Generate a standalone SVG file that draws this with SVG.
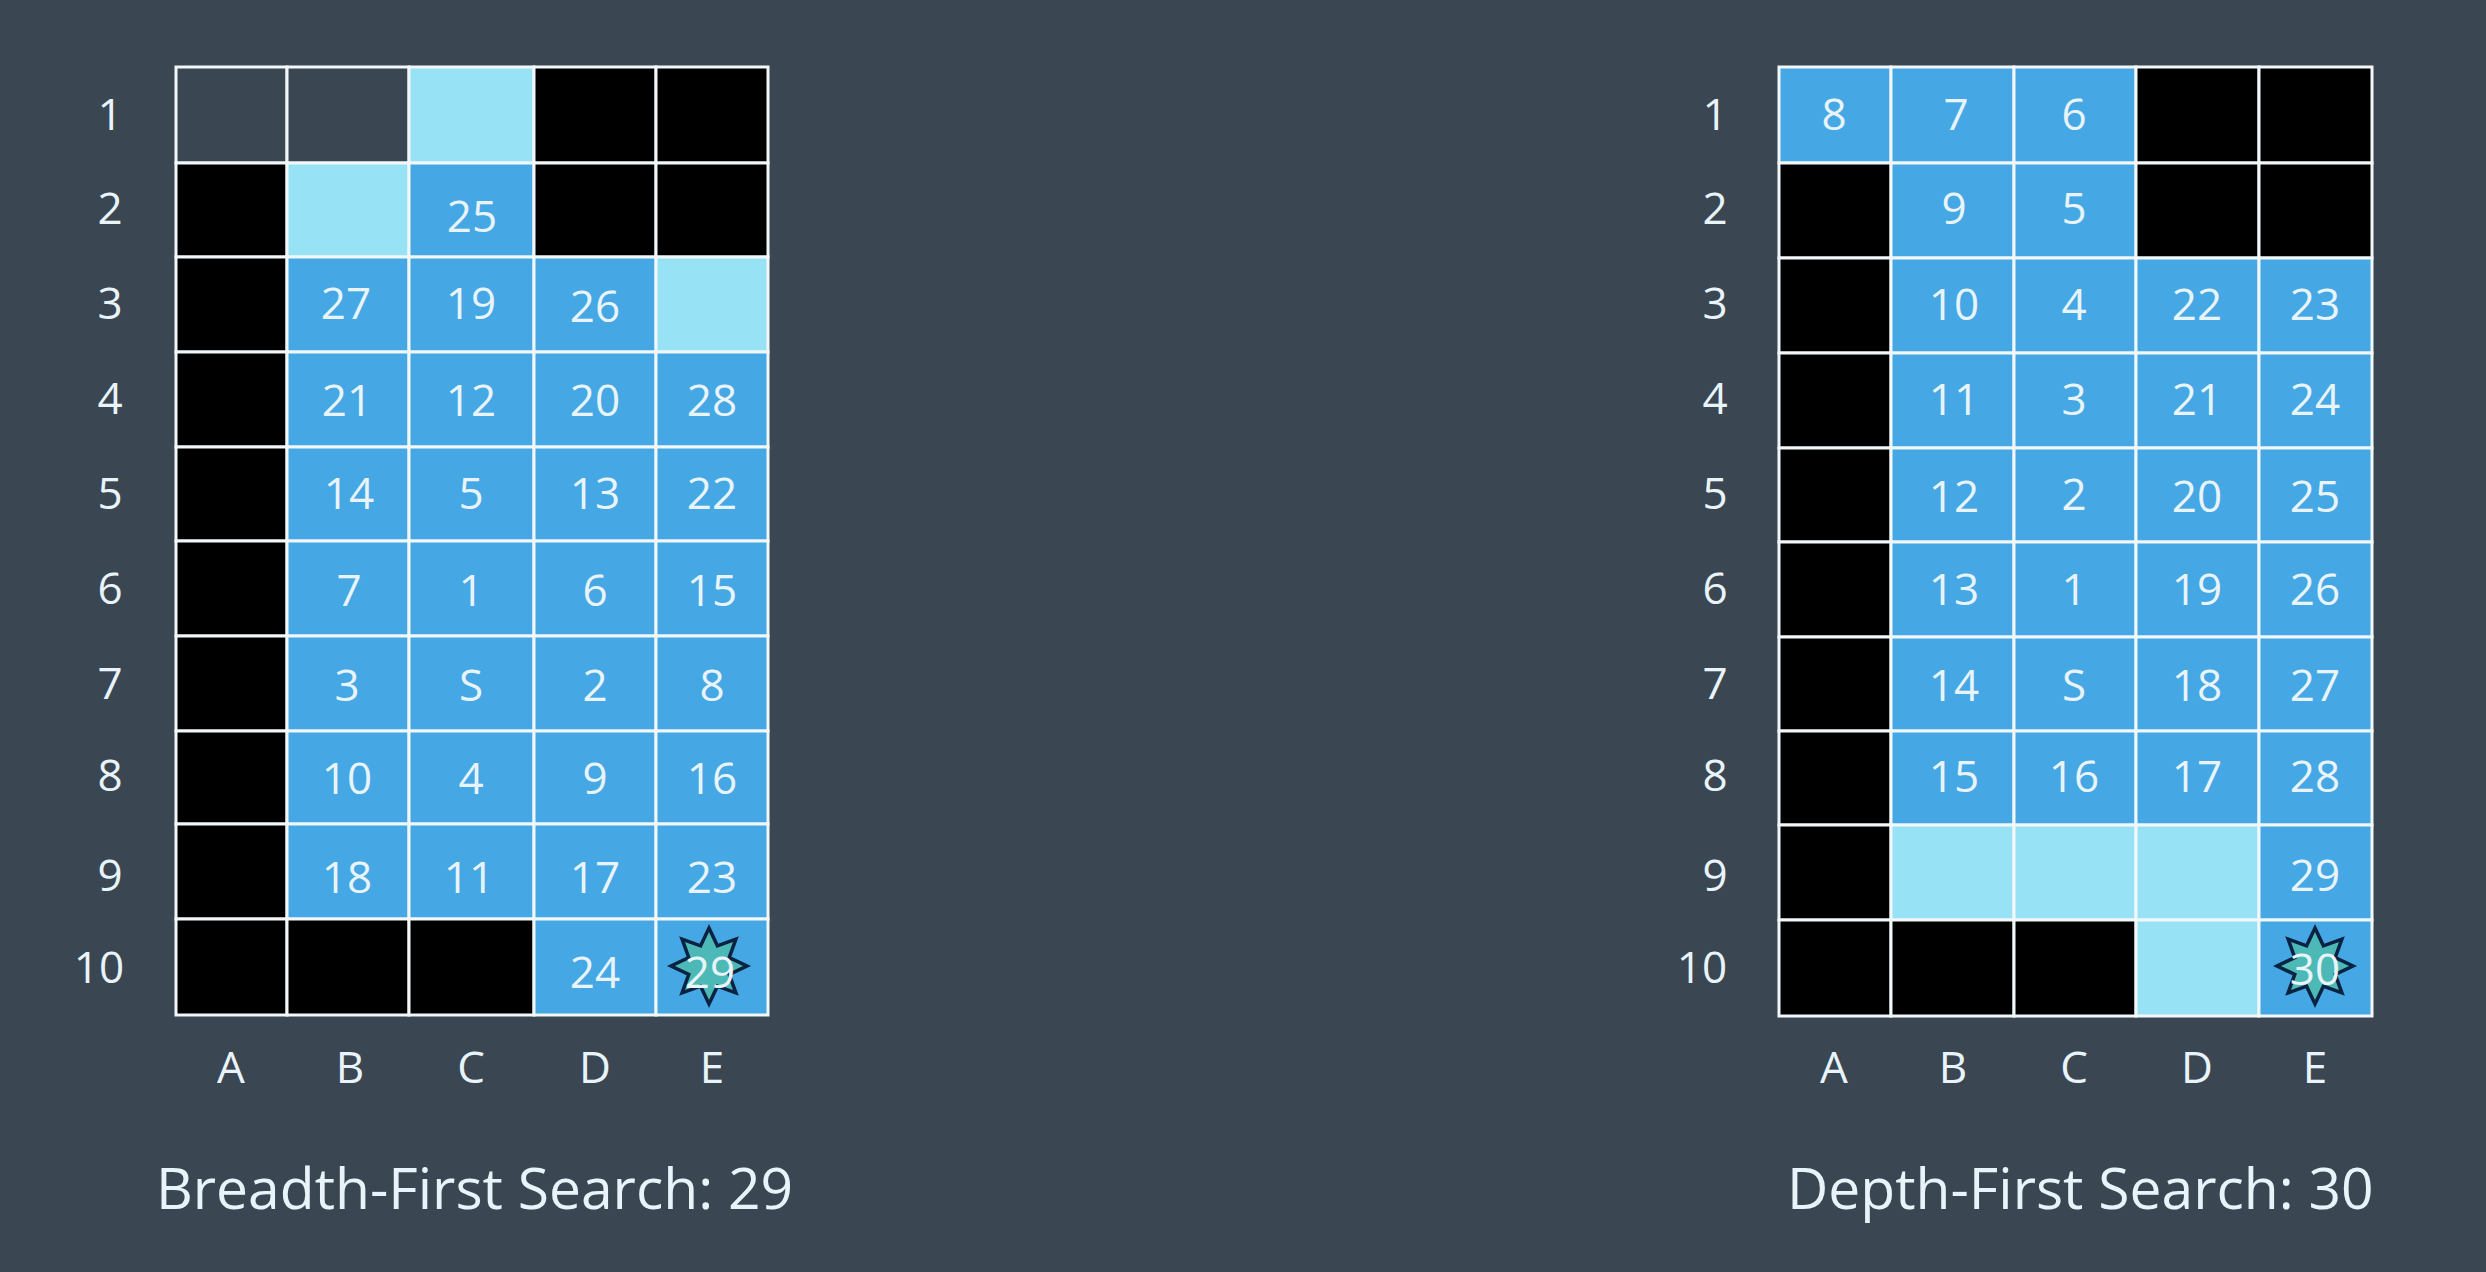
<svg xmlns="http://www.w3.org/2000/svg" width="2486" height="1272" viewBox="0 0 2486 1272">
<style>
text{font-family:"Open Sans","Noto Sans","Liberation Sans",sans-serif;fill:#e8f4fa;text-anchor:middle;font-size:44px}
.title{font-size:57px;text-anchor:start}
.c rect{stroke:#f2f7fa;stroke-width:3}
.bk rect{fill:#000}.bl rect{fill:#45a7e3}.lt rect{fill:#98e2f6}.em rect{fill:#3a4652}
</style>
<defs>
<polygon id="star" points="0,-38 8.4,-20.2 26.9,-26.9 20.2,-8.4 38,0 20.2,8.4 26.9,26.9 8.4,20.2 0,38 -8.4,20.2 -26.9,26.9 -20.2,8.4 -38,0 -20.2,-8.4 -26.9,-26.9 -8.4,-20.2" fill="#4db9b6" stroke="#0a2342" stroke-width="3.5" stroke-linejoin="miter"/>
</defs>
<rect width="2486" height="1272" fill="#3a4652"/>
<g id="bfs-grid">
<g id="bfs-A1" class="c em"><rect x="176" y="67" width="111" height="96"/></g>
<g id="bfs-B1" class="c em"><rect x="287" y="67" width="122" height="96"/></g>
<g id="bfs-C1" class="c lt"><rect x="409" y="67" width="125" height="96"/></g>
<g id="bfs-D1" class="c bk"><rect x="534" y="67" width="122" height="96"/></g>
<g id="bfs-E1" class="c bk"><rect x="656" y="67" width="112" height="96"/></g>
<g id="bfs-A2" class="c bk"><rect x="176" y="163" width="111" height="94"/></g>
<g id="bfs-B2" class="c lt"><rect x="287" y="163" width="122" height="94"/></g>
<g id="bfs-C2" class="c bl"><rect x="409" y="163" width="125" height="94"/><text x="472" y="232">25</text></g>
<g id="bfs-D2" class="c bk"><rect x="534" y="163" width="122" height="94"/></g>
<g id="bfs-E2" class="c bk"><rect x="656" y="163" width="112" height="94"/></g>
<g id="bfs-A3" class="c bk"><rect x="176" y="257" width="111" height="95"/></g>
<g id="bfs-B3" class="c bl"><rect x="287" y="257" width="122" height="95"/><text x="346" y="319">27</text></g>
<g id="bfs-C3" class="c bl"><rect x="409" y="257" width="125" height="95"/><text x="471" y="319">19</text></g>
<g id="bfs-D3" class="c bl"><rect x="534" y="257" width="122" height="95"/><text x="595" y="322">26</text></g>
<g id="bfs-E3" class="c lt"><rect x="656" y="257" width="112" height="95"/></g>
<g id="bfs-A4" class="c bk"><rect x="176" y="352" width="111" height="95"/></g>
<g id="bfs-B4" class="c bl"><rect x="287" y="352" width="122" height="95"/><text x="347" y="416">21</text></g>
<g id="bfs-C4" class="c bl"><rect x="409" y="352" width="125" height="95"/><text x="471" y="416">12</text></g>
<g id="bfs-D4" class="c bl"><rect x="534" y="352" width="122" height="95"/><text x="595" y="416">20</text></g>
<g id="bfs-E4" class="c bl"><rect x="656" y="352" width="112" height="95"/><text x="712" y="416">28</text></g>
<g id="bfs-A5" class="c bk"><rect x="176" y="447" width="111" height="94"/></g>
<g id="bfs-B5" class="c bl"><rect x="287" y="447" width="122" height="94"/><text x="349" y="509">14</text></g>
<g id="bfs-C5" class="c bl"><rect x="409" y="447" width="125" height="94"/><text x="471" y="509">5</text></g>
<g id="bfs-D5" class="c bl"><rect x="534" y="447" width="122" height="94"/><text x="595" y="509">13</text></g>
<g id="bfs-E5" class="c bl"><rect x="656" y="447" width="112" height="94"/><text x="712" y="509">22</text></g>
<g id="bfs-A6" class="c bk"><rect x="176" y="541" width="111" height="95"/></g>
<g id="bfs-B6" class="c bl"><rect x="287" y="541" width="122" height="95"/><text x="349" y="606">7</text></g>
<g id="bfs-C6" class="c bl"><rect x="409" y="541" width="125" height="95"/><text x="471" y="606">1</text></g>
<g id="bfs-D6" class="c bl"><rect x="534" y="541" width="122" height="95"/><text x="595" y="606">6</text></g>
<g id="bfs-E6" class="c bl"><rect x="656" y="541" width="112" height="95"/><text x="712" y="606">15</text></g>
<g id="bfs-A7" class="c bk"><rect x="176" y="636" width="111" height="95"/></g>
<g id="bfs-B7" class="c bl"><rect x="287" y="636" width="122" height="95"/><text x="347" y="701">3</text></g>
<g id="bfs-C7" class="c bl"><rect x="409" y="636" width="125" height="95"/><text x="471" y="701">S</text></g>
<g id="bfs-D7" class="c bl"><rect x="534" y="636" width="122" height="95"/><text x="595" y="701">2</text></g>
<g id="bfs-E7" class="c bl"><rect x="656" y="636" width="112" height="95"/><text x="712" y="701">8</text></g>
<g id="bfs-A8" class="c bk"><rect x="176" y="731" width="111" height="93"/></g>
<g id="bfs-B8" class="c bl"><rect x="287" y="731" width="122" height="93"/><text x="347" y="794">10</text></g>
<g id="bfs-C8" class="c bl"><rect x="409" y="731" width="125" height="93"/><text x="471" y="794">4</text></g>
<g id="bfs-D8" class="c bl"><rect x="534" y="731" width="122" height="93"/><text x="595" y="794">9</text></g>
<g id="bfs-E8" class="c bl"><rect x="656" y="731" width="112" height="93"/><text x="712" y="794">16</text></g>
<g id="bfs-A9" class="c bk"><rect x="176" y="824" width="111" height="95"/></g>
<g id="bfs-B9" class="c bl"><rect x="287" y="824" width="122" height="95"/><text x="347" y="893">18</text></g>
<g id="bfs-C9" class="c bl"><rect x="409" y="824" width="125" height="95"/><text x="469" y="893">11</text></g>
<g id="bfs-D9" class="c bl"><rect x="534" y="824" width="122" height="95"/><text x="595" y="893">17</text></g>
<g id="bfs-E9" class="c bl"><rect x="656" y="824" width="112" height="95"/><text x="712" y="893">23</text></g>
<g id="bfs-A10" class="c bk"><rect x="176" y="919" width="111" height="96"/></g>
<g id="bfs-B10" class="c bk"><rect x="287" y="919" width="122" height="96"/></g>
<g id="bfs-C10" class="c bk"><rect x="409" y="919" width="125" height="96"/></g>
<g id="bfs-D10" class="c bl"><rect x="534" y="919" width="122" height="96"/><text x="595" y="988">24</text></g>
<g id="bfs-E10" class="c bl"><rect x="656" y="919" width="112" height="96"/><use href="#star" x="709" y="966"/><text x="710" y="988">29</text></g>
</g>
<g id="bfs-labels">
<text x="110" y="130">1</text><text x="110" y="224">2</text><text x="110" y="319">3</text><text x="110" y="414">4</text><text x="110" y="509">5</text><text x="110" y="604">6</text><text x="110" y="699">7</text><text x="110" y="791">8</text><text x="110" y="891">9</text><text x="99" y="983">10</text>
<text x="231" y="1083">A</text><text x="350" y="1083">B</text><text x="471" y="1083">C</text><text x="595" y="1083">D</text><text x="712" y="1083">E</text>
<text class="title" x="156" y="1209">Breadth-First Search: 29</text>
</g>
<g id="dfs-grid">
<g id="dfs-A1" class="c bl"><rect x="1779" y="67" width="112" height="96"/><text x="1834" y="130">8</text></g>
<g id="dfs-B1" class="c bl"><rect x="1891" y="67" width="123" height="96"/><text x="1956" y="130">7</text></g>
<g id="dfs-C1" class="c bl"><rect x="2014" y="67" width="122" height="96"/><text x="2074" y="130">6</text></g>
<g id="dfs-D1" class="c bk"><rect x="2136" y="67" width="123" height="96"/></g>
<g id="dfs-E1" class="c bk"><rect x="2259" y="67" width="113" height="96"/></g>
<g id="dfs-A2" class="c bk"><rect x="1779" y="163" width="112" height="95"/></g>
<g id="dfs-B2" class="c bl"><rect x="1891" y="163" width="123" height="95"/><text x="1954" y="224">9</text></g>
<g id="dfs-C2" class="c bl"><rect x="2014" y="163" width="122" height="95"/><text x="2074" y="224">5</text></g>
<g id="dfs-D2" class="c bk"><rect x="2136" y="163" width="123" height="95"/></g>
<g id="dfs-E2" class="c bk"><rect x="2259" y="163" width="113" height="95"/></g>
<g id="dfs-A3" class="c bk"><rect x="1779" y="258" width="112" height="95"/></g>
<g id="dfs-B3" class="c bl"><rect x="1891" y="258" width="123" height="95"/><text x="1954" y="320">10</text></g>
<g id="dfs-C3" class="c bl"><rect x="2014" y="258" width="122" height="95"/><text x="2074" y="320">4</text></g>
<g id="dfs-D3" class="c bl"><rect x="2136" y="258" width="123" height="95"/><text x="2197" y="320">22</text></g>
<g id="dfs-E3" class="c bl"><rect x="2259" y="258" width="113" height="95"/><text x="2315" y="320">23</text></g>
<g id="dfs-A4" class="c bk"><rect x="1779" y="353" width="112" height="95"/></g>
<g id="dfs-B4" class="c bl"><rect x="1891" y="353" width="123" height="95"/><text x="1954" y="415">11</text></g>
<g id="dfs-C4" class="c bl"><rect x="2014" y="353" width="122" height="95"/><text x="2074" y="415">3</text></g>
<g id="dfs-D4" class="c bl"><rect x="2136" y="353" width="123" height="95"/><text x="2197" y="415">21</text></g>
<g id="dfs-E4" class="c bl"><rect x="2259" y="353" width="113" height="95"/><text x="2315" y="415">24</text></g>
<g id="dfs-A5" class="c bk"><rect x="1779" y="448" width="112" height="94"/></g>
<g id="dfs-B5" class="c bl"><rect x="1891" y="448" width="123" height="94"/><text x="1954" y="512">12</text></g>
<g id="dfs-C5" class="c bl"><rect x="2014" y="448" width="122" height="94"/><text x="2074" y="510">2</text></g>
<g id="dfs-D5" class="c bl"><rect x="2136" y="448" width="123" height="94"/><text x="2197" y="512">20</text></g>
<g id="dfs-E5" class="c bl"><rect x="2259" y="448" width="113" height="94"/><text x="2315" y="512">25</text></g>
<g id="dfs-A6" class="c bk"><rect x="1779" y="542" width="112" height="95"/></g>
<g id="dfs-B6" class="c bl"><rect x="1891" y="542" width="123" height="95"/><text x="1954" y="605">13</text></g>
<g id="dfs-C6" class="c bl"><rect x="2014" y="542" width="122" height="95"/><text x="2074" y="605">1</text></g>
<g id="dfs-D6" class="c bl"><rect x="2136" y="542" width="123" height="95"/><text x="2197" y="605">19</text></g>
<g id="dfs-E6" class="c bl"><rect x="2259" y="542" width="113" height="95"/><text x="2315" y="605">26</text></g>
<g id="dfs-A7" class="c bk"><rect x="1779" y="637" width="112" height="94"/></g>
<g id="dfs-B7" class="c bl"><rect x="1891" y="637" width="123" height="94"/><text x="1954" y="701">14</text></g>
<g id="dfs-C7" class="c bl"><rect x="2014" y="637" width="122" height="94"/><text x="2074" y="701">S</text></g>
<g id="dfs-D7" class="c bl"><rect x="2136" y="637" width="123" height="94"/><text x="2197" y="701">18</text></g>
<g id="dfs-E7" class="c bl"><rect x="2259" y="637" width="113" height="94"/><text x="2315" y="701">27</text></g>
<g id="dfs-A8" class="c bk"><rect x="1779" y="731" width="112" height="94"/></g>
<g id="dfs-B8" class="c bl"><rect x="1891" y="731" width="123" height="94"/><text x="1954" y="792">15</text></g>
<g id="dfs-C8" class="c bl"><rect x="2014" y="731" width="122" height="94"/><text x="2074" y="792">16</text></g>
<g id="dfs-D8" class="c bl"><rect x="2136" y="731" width="123" height="94"/><text x="2197" y="792">17</text></g>
<g id="dfs-E8" class="c bl"><rect x="2259" y="731" width="113" height="94"/><text x="2315" y="792">28</text></g>
<g id="dfs-A9" class="c bk"><rect x="1779" y="825" width="112" height="95"/></g>
<g id="dfs-B9" class="c lt"><rect x="1891" y="825" width="123" height="95"/></g>
<g id="dfs-C9" class="c lt"><rect x="2014" y="825" width="122" height="95"/></g>
<g id="dfs-D9" class="c lt"><rect x="2136" y="825" width="123" height="95"/></g>
<g id="dfs-E9" class="c bl"><rect x="2259" y="825" width="113" height="95"/><text x="2315" y="891">29</text></g>
<g id="dfs-A10" class="c bk"><rect x="1779" y="920" width="112" height="96"/></g>
<g id="dfs-B10" class="c bk"><rect x="1891" y="920" width="123" height="96"/></g>
<g id="dfs-C10" class="c bk"><rect x="2014" y="920" width="122" height="96"/></g>
<g id="dfs-D10" class="c lt"><rect x="2136" y="920" width="123" height="96"/></g>
<g id="dfs-E10" class="c bl"><rect x="2259" y="920" width="113" height="96"/><use href="#star" x="2315" y="966"/><text x="2315" y="985">30</text></g>
</g>
<g id="dfs-labels">
<text x="1715" y="130">1</text><text x="1715" y="224">2</text><text x="1715" y="319">3</text><text x="1715" y="414">4</text><text x="1715" y="509">5</text><text x="1715" y="604">6</text><text x="1715" y="699">7</text><text x="1715" y="791">8</text><text x="1715" y="891">9</text><text x="1702" y="983">10</text>
<text x="1834" y="1083">A</text><text x="1953" y="1083">B</text><text x="2074" y="1083">C</text><text x="2197" y="1083">D</text><text x="2315" y="1083">E</text>
<text class="title" x="1787" y="1209">Depth-First Search: 30</text>
</g>
</svg>
